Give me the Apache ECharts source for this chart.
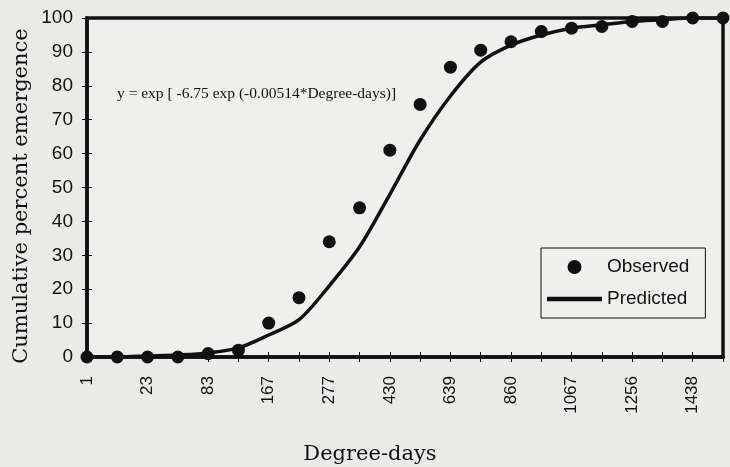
<!DOCTYPE html>
<html>
<head>
<meta charset="utf-8">
<script src="https://cdn.jsdelivr.net/npm/echarts@6/dist/echarts.min.js"></script>
<style>
  html, body { margin: 0; padding: 0; background: #eaeae8; }
  #chart { width: 730px; height: 467px; }
</style>
</head>
<body>
<div id="chart"></div>
<script>
// degree-days (only every other one is printed on the axis)
var degreeDays = ['1', '8', '23', '50', '83', '122', '167', '220', '277', '350', '430',
    '530', '639', '750', '860', '965', '1067', '1160', '1256', '1345', '1438', '1530'];

// cumulative percent emergence
var observed = [0, 0, 0, 0, 1, 2, 10, 17.5, 34, 44, 61, 74.5, 85.5, 90.5, 93, 96, 97, 97.5, 99, 99, 100, 100];
var predicted = [0, 0, 0.3, 0.6, 1.2, 2.7, 6.5, 11, 21, 32.5, 48, 64, 77, 87, 92, 95, 97, 98, 99, 99.5, 100, 100];

var yTicks = { min: 0, max: 100, interval: 10 };

var ink = '#111';
var serif = '"DejaVu Serif", serif';
var sans = '"Liberation Sans", Arial, sans-serif';

var myChart = echarts.init(document.getElementById('chart'), null, { renderer: 'canvas' });

var option = {
    backgroundColor: '#eaeae8',
    animation: false,
    grid: {
        left: 87, right: 7, top: 18, bottom: 110,
        show: true,
        borderColor: ink,
        borderWidth: 3.5,
        backgroundColor: '#efefed'
    },
    graphic: [
        {
            type: 'text', left: 117, top: 86,
            style: {
                text: 'y = exp [ -6.75 exp (-0.00514*Degree-days)]',
                font: '15.5px "Liberation Serif", serif', fill: ink
            }
        },
        {
            type: 'text', x: 22, y: 196, rotation: Math.PI / 2,
            style: {
                text: 'Cumulative percent emergence',
                font: '21px ' + serif, fill: ink,
                align: 'center', verticalAlign: 'middle'
            }
        },
        {
            type: 'text', x: 370, y: 455,
            style: {
                text: 'Degree-days',
                font: '21px ' + serif, fill: ink,
                align: 'center', verticalAlign: 'middle'
            }
        }
    ],
    legend: {
        left: 541, top: 248,
        orient: 'vertical',
        padding: [9, 16, 9, 6],
        itemWidth: 55,
        itemHeight: 14,
        itemGap: 12,
        itemTextGap: 4,
        borderColor: ink,
        borderWidth: 1,
        backgroundColor: '#efefed',
        textStyle: { fontFamily: sans, fontSize: 19, color: ink, lineHeight: 20 },
        data: [
            { name: 'Observed', icon: 'circle' },
            { name: 'Predicted', icon: 'path://M0,0H100V8H0Z' }
        ]
    },
    xAxis: [
        {
            type: 'category',
            data: degreeDays,
            boundaryGap: false,
            axisLine: { lineStyle: { color: ink, width: 3.5 } },
            axisTick: { show: true, interval: 0, length: 5, lineStyle: { color: ink, width: 1 } },
            axisLabel: {
                interval: 1, rotate: 90, margin: 19,
                fontFamily: sans, fontSize: 17, color: ink
            },
            splitLine: { show: false }
        },
        {
            type: 'category',
            data: degreeDays,
            boundaryGap: false,
            position: 'bottom',
            axisLine: { show: false },
            axisTick: { show: true, inside: true, interval: 0, length: 5, lineStyle: { color: ink, width: 1 } },
            axisLabel: { show: false },
            splitLine: { show: false }
        }
    ],
    yAxis: [
        {
            type: 'value',
            min: yTicks.min, max: yTicks.max, interval: yTicks.interval,
            axisLine: { show: true, lineStyle: { color: ink, width: 3.5 } },
            axisTick: { show: true, length: 5, lineStyle: { color: ink, width: 1 } },
            axisLabel: { margin: 14, fontFamily: sans, fontSize: 19, color: ink },
            splitLine: { show: false }
        },
        {
            type: 'value',
            min: yTicks.min, max: yTicks.max, interval: yTicks.interval,
            position: 'left',
            axisLine: { show: false },
            axisTick: { show: true, inside: true, length: 5, lineStyle: { color: ink, width: 1 } },
            axisLabel: { show: false },
            splitLine: { show: false }
        }
    ],
    series: [
        {
            name: 'Predicted',
            type: 'line',
            data: predicted,
            smooth: 0.3,
            symbol: 'none',
            color: ink,
            lineStyle: { color: ink, width: 3.5 },
            z: 2
        },
        {
            name: 'Observed',
            type: 'scatter',
            data: observed,
            symbol: 'circle',
            symbolSize: 13,
            color: ink,
            itemStyle: { color: ink, opacity: 1 },
            clip: false,
            z: 3
        }
    ]
};

myChart.setOption(option);
</script>
</body>
</html>
